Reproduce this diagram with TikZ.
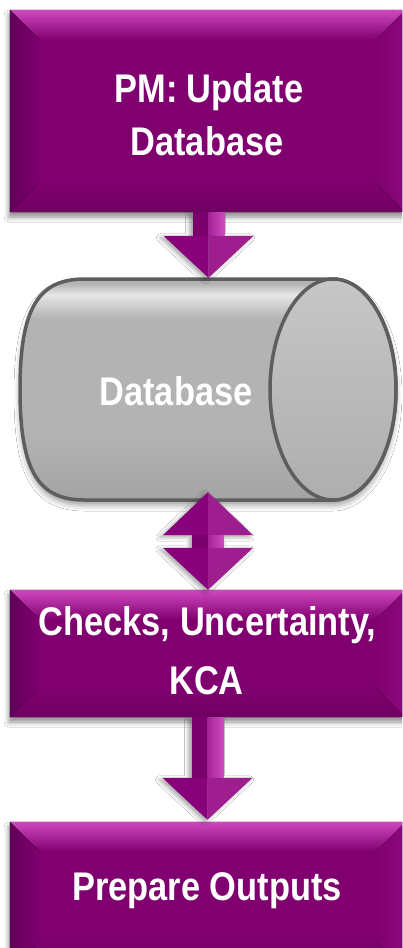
\documentclass[tikz,border=0pt]{standalone}
\usepackage{fontspec}
\newfontfamily\labfont[FakeStretch=0.86]{Liberation Sans}
\usetikzlibrary{calc,shadows.blur}
\definecolor{pface}{HTML}{800070}
\definecolor{ptop}{HTML}{CF48BF}
\definecolor{pdark}{HTML}{62005A}
\definecolor{pright}{HTML}{8A0A7C}
\definecolor{pbot}{HTML}{700062}
\definecolor{adark}{HTML}{7A006C}
\definecolor{aheadl}{HTML}{88007A}
\definecolor{aheadr}{HTML}{9E1E90}
\definecolor{ashl}{HTML}{A62298}
\definecolor{ashr}{HTML}{CC4CC0}
\definecolor{cylline}{HTML}{5E5E5E}
\definecolor{cylhi}{HTML}{E6E6E6}
\definecolor{cylmid}{HTML}{B3B3B3}
\definecolor{cylbot}{HTML}{A4A4A4}
\definecolor{cylface}{HTML}{AEAEAE}
\definecolor{cylfacetop}{HTML}{C6C6C6}
\pgfdeclareverticalshading{cylbody}{100bp}{color(0bp)=(cylbot); color(25bp)=(cylbot); color(40bp)=(cylmid); color(66bp)=(cylmid); color(71.5bp)=(cylhi); color(74bp)=(cylmid); color(100bp)=(cylmid)}
\tikzset{
  pbox/.style={rectangle, fill=pface, inner sep=0pt,
    blur shadow={shadow xshift=-1pt, shadow yshift=-5pt, shadow blur radius=5pt, shadow opacity=45}},
  lab/.style={text=white, font=\labfont\bfseries\fontsize{40}{48}\selectfont, inner sep=0pt, anchor=base},
  ashadow/.style={blur shadow={shadow xshift=-3pt, shadow yshift=-2pt, shadow blur radius=4pt, shadow opacity=35}},
}
\newcommand{\bevel}[1]{%
  \fill[top color=pface, bottom color=pbot] ($(#1.south west)+(30,-30)$) -- ($(#1.south east)+(-30,-30)$) -- (#1.south east) -- (#1.south west) -- cycle;
  \fill[left color=pface, right color=pright] (#1.north east) -- (#1.south east) -- ($(#1.south east)+(-30,-30)$) -- ($(#1.north east)+(-30,30)$) -- cycle;
  \fill[top color=ptop, bottom color=pface] (#1.north west) -- (#1.north east) -- ($(#1.north east)+(-30,30)$) -- ($(#1.north west)+(30,30)$) -- cycle;
  \fill[left color=pdark, right color=pface] (#1.north west) -- ($(#1.north west)+(30,30)$) -- ($(#1.south west)+(30,-30)$) -- (#1.south west) -- cycle;
}
% down block arrow: #1 shaft top, #2 tip
\newcommand{\downarrowblock}[2]{%
  \path[ashadow] let \p1=(#1), \p2=(#2) in (\x2-16pt,\y1) -- (\x2+16pt,\y1) -- (\x2+16pt,\y2+42pt) -- (\x2+45pt,\y2+42pt) -- (\x2,\y2) -- (\x2-45pt,\y2+42pt) -- (\x2-16pt,\y2+42pt) -- cycle;
  \fill[adark] let \p1=(#1), \p2=(#2) in (\x2-16pt,\y1) rectangle (\x2,\y2+42pt);
  \shade[left color=ashl, right color=ashr] let \p1=(#1), \p2=(#2) in (\x2,\y1) rectangle (\x2+16pt,\y2+42pt);
  \fill[aheadl] let \p1=(#1), \p2=(#2) in (\x2-45pt,\y2+42pt) -- (\x2,\y2+42pt) -- (\x2,\y2) -- cycle;
  \fill[aheadr] let \p1=(#1), \p2=(#2) in (\x2,\y2+42pt) -- (\x2+45pt,\y2+42pt) -- (\x2,\y2) -- cycle;
}
\begin{document}
\begin{tikzpicture}[x=1pt,y=-1pt]
\useasboundingbox (0,0) rectangle (402,948);
\clip (0,0) rectangle (402,948);
\fill[white] (0,0) rectangle (402,948);

% boxes
\node[pbox, minimum width=395pt, minimum height=202pt] (b1) at (207.5,111) {};
\bevel{b1}
\node[pbox, minimum width=395pt, minimum height=127pt] (b2) at (207.5,653.5) {};
\bevel{b2}
\node[pbox, minimum width=395pt, minimum height=148pt] (b3) at (207.5,896) {};
\bevel{b3}

% database cylinder
\node[minimum width=377pt, minimum height=221pt, inner sep=0pt] (db) at (208.5,389.5) {};
\shadedraw[shading=cylbody, draw=cylline, line width=3.5pt,
  blur shadow={shadow xshift=0pt, shadow yshift=-5pt, shadow blur radius=6pt, shadow opacity=40}]
  (333,279) -- (85,279) .. controls (40,279) and (20,305) .. (20,389.5)
  .. controls (20,474) and (40,500) .. (85,500) -- (333,500)
  arc[start angle=90, end angle=-90, x radius=63, y radius=110.5] -- cycle;
\shadedraw[top color=cylfacetop, bottom color=cylface, draw=cylline, line width=3.5pt]
  (333,389.5) ellipse [x radius=63, y radius=110.5];

% arrows
\coordinate (a1tip) at ($(db.north)+(0,-1)$);
\downarrowblock{b1.south}{a1tip}
\coordinate (a3tip) at ($(b3.north)+(0,-2)$);
\downarrowblock{b2.south}{a3tip}

% double arrow
\coordinate (dtop) at ($(db.south)+(-0.5,-8)$);
\path[ashadow] let \p1=(dtop), \p2=(b2.north) in (\x1,\y1) -- (\x1+45pt,\y1-43pt) -- (\x1+16pt,\y1-43pt) -- (\x1+16pt,\y2+42pt) -- (\x1+45pt,\y2+42pt) -- (\x1,\y2) -- (\x1-45pt,\y2+42pt) -- (\x1-16pt,\y2+42pt) -- (\x1-16pt,\y1-43pt) -- (\x1-45pt,\y1-43pt) -- cycle;
\fill[aheadl] let \p1=(dtop) in (\x1,\y1) -- (\x1,\y1-43pt) -- (\x1-45pt,\y1-43pt) -- cycle;
\fill[aheadr] let \p1=(dtop) in (\x1,\y1) -- (\x1,\y1-43pt) -- (\x1+45pt,\y1-43pt) -- cycle;
\fill[adark] let \p1=(dtop), \p2=(b2.north) in (\x1-16pt,\y1-43pt) rectangle (\x1,\y2+42pt);
\shade[left color=ashl, right color=ashr] let \p1=(dtop), \p2=(b2.north) in (\x1,\y1-43pt) rectangle (\x1+16pt,\y2+42pt);
\fill[aheadl] let \p1=(dtop), \p2=(b2.north) in (\x1-45pt,\y2+42pt) -- (\x1,\y2+42pt) -- (\x1,\y2) -- cycle;
\fill[aheadr] let \p1=(dtop), \p2=(b2.north) in (\x1,\y2+42pt) -- (\x1+45pt,\y2+42pt) -- (\x1,\y2) -- cycle;

% labels
\node[lab] (t1a) at (209,102) {PM: Update};
\node[lab] (t1b) at (207,155) {Database};
\node[lab] (dbtxt) at (176,405) {Database};
\node[lab] (t2a) at (207.5,635) {Checks, Uncertainty,};
\node[lab] (t2b) at (206.5,694) {KCA};
\node[lab] (t3) at (207,900) {Prepare Outputs};
\end{tikzpicture}
\end{document}
